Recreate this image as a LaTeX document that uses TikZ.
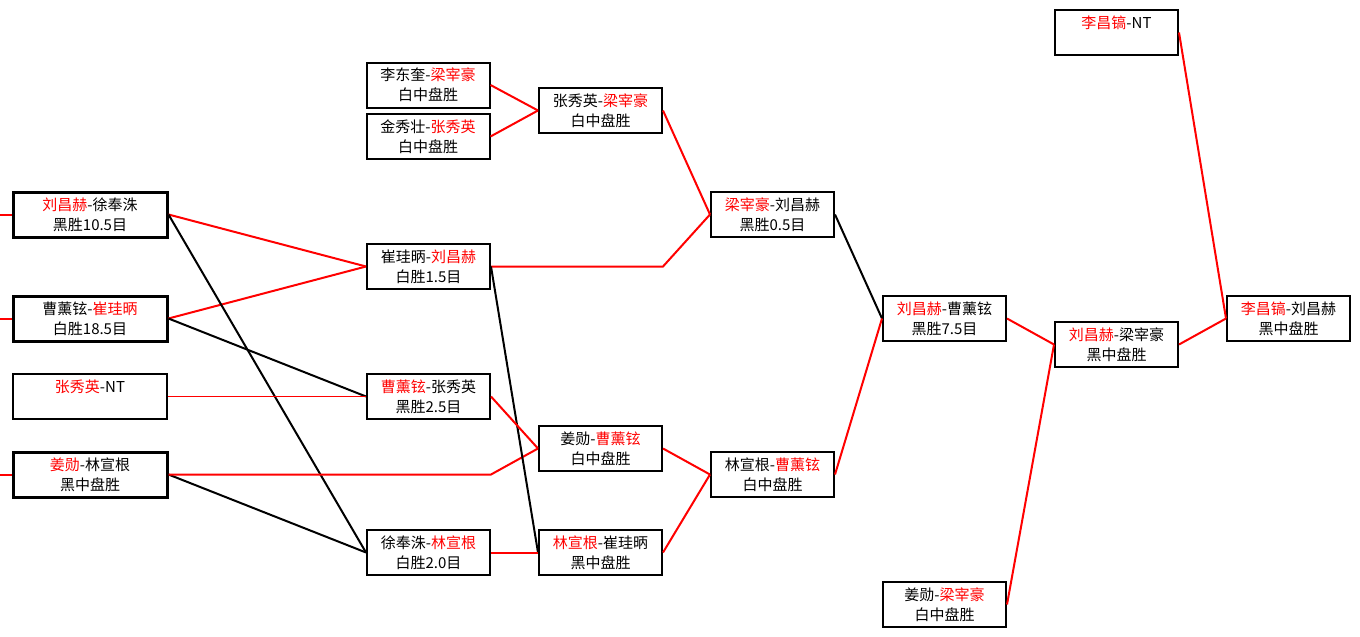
\documentclass[tikz,border=0pt]{standalone}
\usepackage{fontspec}
\setmainfont{Noto Sans CJK SC}
\usepackage{xcolor}
\usepackage{tikz}
\usetikzlibrary{calc}
\newcommand\winner[1]{\textcolor{red}{#1}}
\tikzset{
    game/.style={draw, fill=white, line width=2pt, minimum width=123pt,
        minimum height=45pt, inner sep=0pt, align=center,
        font=\fontsize{15}{20}\selectfont},
    seed/.style={game, minimum width=154pt},
    seedwon/.style={seed, line width=3pt},
    winline/.style={red, line width=2pt},
    byeline/.style={red, line width=1.3pt},
    loseline/.style={black, line width=2pt},
}

\begin{document}
\begin{tikzpicture}[x=1pt, y=-1pt]
    \useasboundingbox[fill=white] (0,0) rectangle (1360,637);
    \coordinate (edge) at (0,0);
    % first round
    \node[seedwon] (a1) at (90,214.5) {\winner{刘昌赫}-徐奉洙\\黑胜10.5目};
    \node[seedwon] (a2) at (90,318.5) {曹薰铉-\winner{崔珪昞}\\白胜18.5目};
    \node[seed]    (a3) at (90,396.5) {\winner{张秀英}-NT\\\mbox{}};
    \node[seedwon] (a4) at (90,474.5) {\winner{姜勋}-林宣根\\黑中盘胜};
    % second column
    \node[game] (b1) at (428,85)     {李东奎-\winner{梁宰豪}\\白中盘胜};
    \node[game] (b2) at (428,136.5)  {金秀壮-\winner{张秀英}\\白中盘胜};
    \node[game] (b3) at (428.5,266.5) {崔珪昞-\winner{刘昌赫}\\白胜1.5目};
    \node[game] (b4) at (428.5,396.5) {\winner{曹薰铉}-张秀英\\黑胜2.5目};
    \node[game] (b5) at (428.5,552.5) {徐奉洙-\winner{林宣根}\\白胜2.0目};
    % third column
    \node[game] (c1) at (600.5,110.5) {张秀英-\winner{梁宰豪}\\白中盘胜};
    \node[game] (c2) at (600.5,448.5) {姜勋-\winner{曹薰铉}\\白中盘胜};
    \node[game] (c3) at (600.5,552.5) {\winner{林宣根}-崔珪昞\\黑中盘胜};
    % fourth column
    \node[game] (d1) at (772.5,214.5) {\winner{梁宰豪}-刘昌赫\\黑胜0.5目};
    \node[game] (d2) at (772.5,474.5) {林宣根-\winner{曹薰铉}\\白中盘胜};
    % fifth column
    \node[game] (e1) at (944.5,318.5) {\winner{刘昌赫}-曹薰铉\\黑胜7.5目};
    \node[game] (e2) at (944.5,604.5) {姜勋-\winner{梁宰豪}\\白中盘胜};
    % final
    \node[game] (f1) at (1116.5,344.5) {\winner{刘昌赫}-梁宰豪\\黑中盘胜};
    \node[game] (f2) at (1116.5,32.5)  {\winner{李昌镐}-NT\\\mbox{}};
    \node[game] (g1) at (1288.5,318.5) {\winner{李昌镐}-刘昌赫\\黑中盘胜};
    % connectors
    \draw[winline] (a1.west -| edge) -- (a1.west);
    \draw[winline] (a2.west -| edge) -- (a2.west);
    \draw[winline] (a4.west -| edge) -- (a4.west);
    \draw[winline] (a1.east) -- (b3.west);
    \draw[winline] (a2.east) -- (b3.west);
    \draw[loseline] (a1.east) -- (b5.west);
    \draw[loseline] (a2.east) -- (b4.west);
    \draw[byeline] (a3.east) -- (b4.west);
    \draw[loseline] (a4.east) -- (b5.west);
    \draw[winline] (a4.east) -- (a4.east -| b5.east) -- (c2.west);
    \draw[winline] (b1.east) -- (c1.west);
    \draw[winline] (b2.east) -- (c1.west);
    \draw[winline] (b3.east) -- (b3.east -| c1.east) -- (d1.west);
    \draw[loseline] (b3.east) -- (c3.west);
    \draw[winline] (b4.east) -- (c2.west);
    \draw[winline] (b5.east) -- (c3.west);
    \draw[winline] (c1.east) -- (d1.west);
    \draw[winline] (c2.east) -- (d2.west);
    \draw[winline] (c3.east) -- (d2.west);
    \draw[loseline] (d1.east) -- (e1.west);
    \draw[winline] (d2.east) -- (e1.west);
    \draw[winline] (e1.east) -- (f1.west);
    \draw[winline] (e2.east) -- (f1.west);
    \draw[winline] (f1.east) -- (g1.west);
    \draw[winline] (f2.east) -- (g1.west);
\end{tikzpicture}
\end{document}
